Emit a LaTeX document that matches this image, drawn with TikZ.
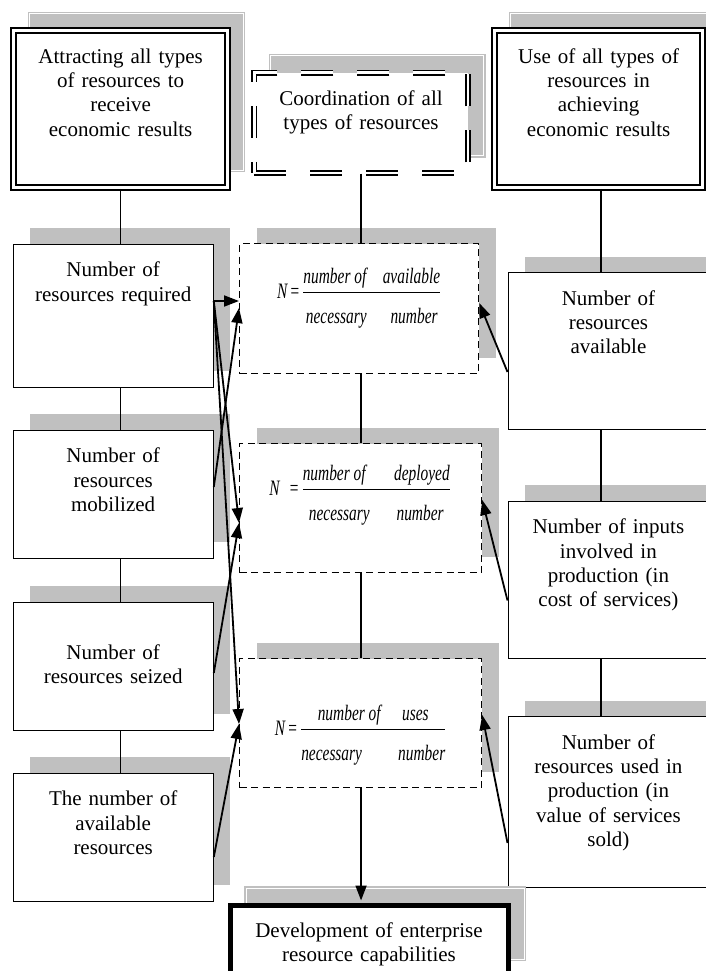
\documentclass[tikz,border=0pt]{standalone}
\usepackage{amsmath}
\usepackage{graphicx}
\usepackage{fontspec}
\setmainfont{Liberation Serif}
\usetikzlibrary{arrows.meta,shadows}
\definecolor{shadowgray}{RGB}{192,192,192}
% N = (numerator)/(denominator), set condensed like the original
\newcommand{\ratioN}[5]{\scalebox{0.7}[1]{\itshape N\hspace{#1}=\,$\dfrac{\text{\itshape number of\hspace{#2}#3}}{\rule{0pt}{28pt}\text{\itshape necessary\hspace{#4}#5}}$}}

\begin{document}
\begin{tikzpicture}[x=1pt,y=-1pt,
  txt/.style={font=\fontsize{21}{24.4}\selectfont,align=center,anchor=north west,inner xsep=4pt,inner ysep=6pt,text height=26.5pt},
  shd/.style={general shadow={fill=shadowgray,shadow xshift=17pt,shadow yshift=16pt}},
  shdw/.style={general shadow={fill=shadowgray,draw=shadowgray,double=white,double distance=0.8pt,line width=1.4pt,solid,shadow xshift=16pt,shadow yshift=17pt}},
  box/.style={txt,draw,fill=white,line width=1.3pt,shd},
  topbox/.style={txt,draw,fill=white,double,line width=2.3pt,double distance=2.5pt,shdw},
  coordbox/.style={txt,draw,fill=white,double,line width=1.6pt,double distance=2.6pt,dash pattern=on 32pt off 24pt,shdw},
  fbox/.style={draw,fill=white,line width=1.2pt,dash pattern=on 7pt off 4.5pt,anchor=north west,inner sep=0pt,shd},
  devbox/.style={txt,draw,fill=white,line width=5pt,shdw},
  frm/.style={font=\fontsize{22}{26}\selectfont,anchor=base,inner sep=0pt},
  ln/.style={line width=1.3pt},
  arr/.style={line width=1.8pt,-{Triangle[length=15pt,width=11pt]}}]

\useasboundingbox (0,0) rectangle (706,971);
\clip (0,0) rectangle (706,971);

% top row
\node[topbox,text width=206pt,text depth=118.5pt] (attr) at (12.5,29.5) {Attracting all types\\of resources to\\receive\\economic results};
\node[coordbox,text width=205.5pt,text depth=61.5pt] (coord) at (253.5,72) {Coordination of all\\types of resources};
\node[topbox,text width=200pt,text depth=118.5pt] (use) at (493.5,29.5) {Use of all types of\\resources in\\achieving\\economic results};

% left column
\node[box,text width=192pt,text depth=104.5pt] (req) at (12.5,243.5) {Number of\\resources required};
\node[box,text width=192pt,text depth=89.5pt] (mob) at (12.5,429.5) {Number of\\resources\\mobilized};
\node[box,text width=192pt,text depth=89.5pt] (seiz) at (12.5,601.5) {\mbox{}\\Number of\\resources seized};
\node[box,text width=192pt,text depth=89.5pt] (avl) at (12.5,772.5) {The number of\\available\\resources};

% middle column
\node[fbox,minimum width=239pt,minimum height=130pt] (f1) at (239,243) {};
\node[fbox,minimum width=242pt,minimum height=129pt] (f2) at (239,443) {};
\node[fbox,minimum width=242pt,minimum height=129pt] (f3) at (239,658) {};
\node[frm] (f1t) at (359,298) {\ratioN{0.15em}{1.07em}{available}{1.55em}{number}};
\node[frm] (f2t) at (360,495) {\ratioN{0.6em}{1.85em}{deployed}{1.75em}{number}};
\node[frm] (f3t) at (360.5,735) {\ratioN{0.15em}{1.4em}{uses}{2.35em}{number}};

% right column
\node[box,text width=192.5pt,text depth=118.5pt] (ravl) at (507.5,272) {Number of\\resources\\available};
\node[box,text width=192.5pt,text depth=118.5pt] (inp) at (507.5,500.5) {Number of inputs\\involved in\\production (in\\cost of services)};
\node[box,text width=192.5pt,text depth=132.5pt] (used) at (507.5,716) {Number of\\resources used in\\production (in\\value of services\\sold)};

% result
\node[devbox,text width=270pt,text depth=33pt] (dev) at (227.5,902.5) {Development of enterprise\\resource capabilities};

\coordinate (rx) at (601,0);

% vertical links
\draw[ln] (attr.south) -- (attr.south |- req.north);
\draw[ln] (req.south -| attr.south) -- (mob.north -| attr.south);
\draw[ln] (mob.south -| attr.south) -- (seiz.north -| attr.south);
\draw[ln] (seiz.south -| attr.south) -- (avl.north -| attr.south);
\draw[ln] (coord.south) -- (coord.south |- f1.north);
\draw[ln] (f1.south -| coord.south) -- (f2.north -| coord.south);
\draw[ln] (f2.south -| coord.south) -- (f3.north -| coord.south);
\draw[ln] (use.south -| rx) -- (ravl.north -| rx);
\draw[ln] (ravl.south -| rx) -- (inp.north -| rx);
\draw[ln] (inp.south -| rx) -- (used.north -| rx);
\draw[arr,shorten >=2pt] (f3.south -| coord.south) -- (dev.north -| coord.south);

% inputs from the left
\draw[arr] ([yshift=-57.5pt]req.north east) -- ([yshift=-58pt]f1.north west);
\draw[arr] ([yshift=-57.5pt]req.north east) -- ([yshift=-80pt]f2.north west);
\draw[arr] ([yshift=-57.5pt]req.north east) -- ([yshift=-66pt]f3.north west);
\draw[arr] ([yshift=-57.5pt]mob.north east) -- ([yshift=-65pt]f1.north west);
\draw[arr] ([yshift=-71.5pt]seiz.north east) -- ([yshift=-80pt]f2.north west);
\draw[arr] ([yshift=-84.5pt]avl.north east) -- ([yshift=-66pt]f3.north west);

% inputs from the right
\draw[arr] ([yshift=-100pt]ravl.north west) -- ([yshift=-60pt]f1.north east);
\draw[arr] ([yshift=-100pt]inp.north west) -- ([yshift=-57pt]f2.north east);
\draw[arr] ([yshift=-127pt]used.north west) -- ([yshift=-57pt]f3.north east);
\end{tikzpicture}
\end{document}
